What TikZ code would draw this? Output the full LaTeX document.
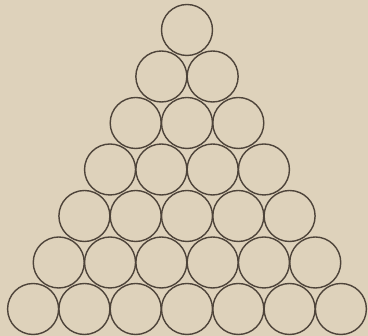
\documentclass[tikz,border=0pt]{standalone}
\usepackage{tikz}
\definecolor{paper}{RGB}{222,210,187}
\definecolor{ink}{RGB}{78,68,58}

\begin{document}
\begin{tikzpicture}[x=1pt, y=1pt,
		ball/.style={circle, draw=ink, line width=1.4pt, minimum size=51pt, inner sep=0pt}]
		\fill[paper] (0,0) rectangle (368,336);
		\useasboundingbox (0,0) rectangle (368,336);
		% seven rows of balls, one more in each row
		\foreach \r in {0,...,6} {
			\foreach \i in {0,...,\r} {
				\node[ball] (b-\r-\i) at ({187+(\i-\r/2)*51.3}, {306-\r*46.5}) {};
			}
		}
	\end{tikzpicture}
\end{document}
